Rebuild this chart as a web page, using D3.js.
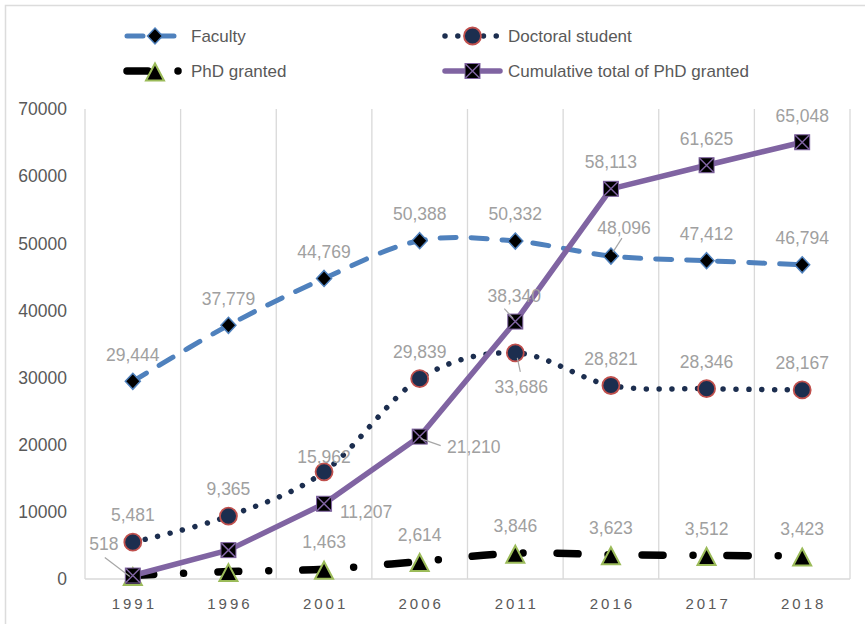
<!DOCTYPE html>
<html>
<head>
<meta charset="utf-8">
<script src="https://cdn.jsdelivr.net/npm/d3@7"></script>
<style>
  body { margin: 0; background: #fff; }
  text { font-family: "Liberation Sans", Arial, sans-serif; }
</style>
</head>
<body>
<div id="grafik"></div>
<script>
const years = ["1991", "1996", "2001", "2006", "2011", "2016", "2017", "2018"];
const faculty = [29444, 37779, 44769, 50388, 50332, 48096, 47412, 46794];
const doctoral = [5481, 9365, 15962, 29839, 33686, 28821, 28346, 28167];
const phdGranted = [518, 1100, 1463, 2614, 3846, 3623, 3512, 3423];
const cumulative = [518, 4300, 11207, 21210, 38340, 58113, 61625, 65048];
const yTicks = [0, 10000, 20000, 30000, 40000, 50000, 60000, 70000];

const W = 865, H = 624;
const svg = d3.select("#grafik").append("svg")
  .attr("width", W).attr("height", H);

// outer chart border
svg.append("rect")
  .attr("x", 5.5).attr("y", 5.5)
  .attr("width", 900).attr("height", 700)
  .attr("fill", "none").attr("stroke", "#dcdcdc").attr("stroke-width", 1.5);

const x = d3.scaleBand().domain(years).range([85, 850]);
const y = d3.scaleLinear().domain([0, 70000]).range([579, 109]);
const cx = d => x(d) + x.bandwidth() / 2;

// vertical gridlines at category boundaries
const bounds = years.map(d => x(d)).concat([x.range()[1]]);
svg.append("g").selectAll("line")
  .data(bounds)
  .join("line")
  .attr("x1", d => d).attr("x2", d => d)
  .attr("y1", y(70000)).attr("y2", y(0))
  .attr("stroke", "#d9d9d9").attr("stroke-width", 1.3);

svg.append("line")
  .attr("x1", x.range()[0]).attr("x2", x.range()[1])
  .attr("y1", y(0)).attr("y2", y(0))
  .attr("stroke", "#d9d9d9").attr("stroke-width", 1.3);

// y axis labels
svg.append("g").selectAll("text")
  .data(yTicks)
  .join("text")
  .attr("x", 67)
  .attr("y", d => y(d))
  .attr("dy", "0.36em")
  .attr("text-anchor", "end")
  .attr("fill", "#595959")
  .style("font-size", "17.5px")
  .text(d => d);

// x axis labels
svg.append("g").selectAll("text")
  .data(years)
  .join("text")
  .attr("x", d => cx(d) + 1.5)
  .attr("y", 609)
  .attr("text-anchor", "middle")
  .attr("fill", "#595959")
  .style("font-size", "15px")
  .style("letter-spacing", "3px")
  .text(d => d);

// marker drawers
const markers = {
  diamond: (g) => g.append("path")
    .attr("d", "M0,-8L7.5,0L0,8L-7.5,0Z")
    .attr("fill", "#000").attr("stroke", "#4f81bd").attr("stroke-width", 1.5),
  circle: (g) => g.append("circle")
    .attr("r", 8.5)
    .attr("fill", "#1c2e4f").attr("stroke", "#c0504d").attr("stroke-width", 1.8),
  triangle: (g) => g.append("path")
    .attr("d", "M0,-7.5L9,9.5L-9,9.5Z")
    .attr("fill", "#000").attr("stroke", "#9bbb59").attr("stroke-width", 2),
  xsquare: (g) => {
    g.append("rect")
      .attr("x", -7.5).attr("y", -7.5).attr("width", 15).attr("height", 15)
      .attr("fill", "#000").attr("stroke", "#8064a2").attr("stroke-width", 1);
    g.append("path")
      .attr("d", "M-7,-7L7,7M7,-7L-7,7")
      .attr("stroke", "#8064a2").attr("stroke-width", 1.5);
  }
};

const series = [
  { name: "Faculty", values: faculty, color: "#4f81bd", width: 5, dash: "16 15",
    curve: d3.curveCardinal.tension(0), marker: "diamond" },
  { name: "Doctoral student", values: doctoral, color: "#1c2e4f", width: 5.5, dash: "0.01 12.8",
    curve: d3.curveCardinal.tension(0), marker: "circle" },
  { name: "PhD granted", values: phdGranted, color: "#000", width: 7.5, dash: "21 30 0.01 34",
    curve: d3.curveCardinal.tension(0), marker: "triangle" },
  { name: "Cumulative total of PhD granted", values: cumulative, color: "#8064a2", width: 5.5, dash: null,
    curve: d3.curveLinear, marker: "xsquare" }
];

// label placement: default is centred 27px above the point
const labelAdjust = {
  "Faculty-2016": { dx: 13, dy: -28, leader: [[11, -18], [2, -4]] },
  "Doctoral student-2001": { dx: 0, dy: -15 },
  "Doctoral student-2011": { dx: 6, dy: 34, leader: [[2, 5], [5, 19]] },
  "Cumulative total of PhD granted-1991": { dx: -29, dy: -32, leader: [[-28, -18], [-3, 1]] },
  "Cumulative total of PhD granted-2001": { dx: 42, dy: 8 },
  "Cumulative total of PhD granted-2006": { dx: 54, dy: 10, leader: [[1, 2], [21, 9]] },
  "Cumulative total of PhD granted-2011": { dx: -1, dy: -26, leader: [[-11, -13], [-2, -3]] }
};
const hiddenLabels = new Set([
  "PhD granted-1991", "PhD granted-1996", "Cumulative total of PhD granted-1996"
]);

const fmt = d3.format(",");

series.forEach(s => {
  const g = svg.append("g");
  const line = d3.line()
    .x((d, i) => cx(years[i]))
    .y(d => y(d))
    .curve(s.curve);

  g.append("path")
    .datum(s.values)
    .attr("d", line)
    .attr("fill", "none")
    .attr("stroke", s.color)
    .attr("stroke-width", s.width)
    .attr("stroke-linecap", "round")
    .attr("stroke-linejoin", "round")
    .attr("stroke-dasharray", s.dash);

  s.values.forEach((v, i) => {
    const m = g.append("g").attr("transform", `translate(${cx(years[i])},${y(v)})`);
    markers[s.marker](m);
  });
});

// data labels on top
series.forEach(s => {
  s.values.forEach((v, i) => {
    const key = `${s.name}-${years[i]}`;
    if (hiddenLabels.has(key)) return;
    const adj = labelAdjust[key] || { dx: 0, dy: -27 };
    const px = cx(years[i]), py = y(v);
    if (adj.leader) {
      svg.append("line")
        .attr("x1", px + adj.leader[0][0]).attr("y1", py + adj.leader[0][1])
        .attr("x2", px + adj.leader[1][0]).attr("y2", py + adj.leader[1][1])
        .attr("stroke", "#a6a6a6").attr("stroke-width", 1.2);
    }
    svg.append("text")
      .attr("x", px + adj.dx)
      .attr("y", py + adj.dy)
      .attr("dy", "0.36em")
      .attr("text-anchor", "middle")
      .attr("fill", "#a0a0a0")
      .style("font-size", "17.5px")
      .text(fmt(v));
  });
});

// legend
const legendPos = [
  { x0: 127, x1: 183, ly: 36 },
  { x0: 445, x1: 500, ly: 36 },
  { x0: 127, x1: 183, ly: 71 },
  { x0: 445, x1: 500, ly: 71 }
];
series.forEach((s, i) => {
  const p = legendPos[i];
  const lg = svg.append("g");
  lg.append("line")
    .attr("x1", p.x0).attr("x2", p.x1)
    .attr("y1", p.ly).attr("y2", p.ly)
    .attr("stroke", s.color)
    .attr("stroke-width", s.width)
    .attr("stroke-linecap", "round")
    .attr("stroke-dasharray", s.dash);
  const m = lg.append("g").attr("transform", `translate(${(p.x0 + p.x1) / 2},${p.ly})`);
  markers[s.marker](m);
  lg.append("text")
    .attr("x", p.x1 + 8)
    .attr("y", p.ly)
    .attr("dy", "0.36em")
    .attr("fill", "#595959")
    .style("font-size", "17px")
    .text(s.name);
});
</script>
</body>
</html>
